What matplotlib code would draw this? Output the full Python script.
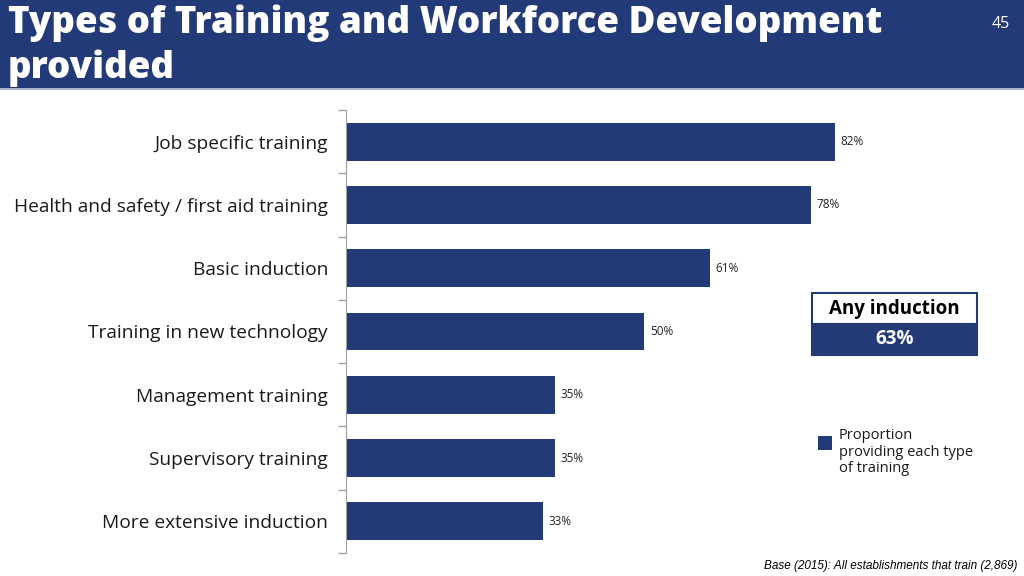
import matplotlib
matplotlib.use("Agg")
import matplotlib.pyplot as plt
from matplotlib.patches import Rectangle

# data
categories = ["Job specific training", "Health and safety / first aid training",
              "Basic induction", "Training in new technology",
              "Management training", "Supervisory training",
              "More extensive induction"]
values = [82, 78, 61, 50, 35, 35, 33]
any_induction = 63

navy = "#233a78"
plt.rcParams['font.family'] = ['Open Sans', 'DejaVu Sans']

fig = plt.figure(figsize=(10.24, 5.76), dpi=100)

# header band
fig.patches.append(Rectangle((0, 1 - 88/576), 1, 88/576, transform=fig.transFigure,
                             facecolor=navy, edgecolor="none", zorder=0))
fig.lines.append(plt.Line2D([0, 1], [1 - 89/576, 1 - 89/576], transform=fig.transFigure,
                            color="#9aa6c4", lw=1.2))
fig.text(8/1024, 1 - 23/576, "Types of Training and Workforce Development", color="white",
         fontsize=26.5, fontweight="heavy", va="center", ha="left")
fig.text(8/1024, 1 - 68/576, "provided", color="white",
         fontsize=26.5, fontweight="heavy", va="center", ha="left")
fig.text(1001/1024, 1 - 24/576, "45", color="white", fontsize=11.5, va="center", ha="center")

ax = fig.add_axes([346/1024, 1 - 553/576, (942 - 346)/1024, (553 - 110)/576])
y = list(range(len(categories)))
ax.barh(y, values, height=0.6, color=navy, zorder=2)
ax.set_ylim(len(categories) - 0.5, -0.5)
ax.set_xlim(0, 100)
for yi, v in zip(y, values):
    ax.text(v + 1, yi, f"{v}%", va="center", ha="left", fontsize=8.5, color="#222222")

ax.set_yticks([i + 0.5 for i in range(-1, len(categories))])
ax.set_yticklabels([])
ax.set_yticks(y, minor=True)
ax.set_yticklabels(categories, minor=True, fontsize=13.8, color="#1a1a1a")
ax.tick_params(axis="y", which="minor", length=0, pad=13)
ax.tick_params(axis="y", which="major", length=6, color="#a0a0a0", width=1)
ax.set_xticks([])
for s in ["top", "right", "bottom"]:
    ax.spines[s].set_visible(False)
ax.spines["left"].set_color("#a0a0a0")

# any induction box
bx, bw = 812/1024, (977 - 812)/1024
fig.patches.append(Rectangle((bx, 1 - 324/576), bw, 31/576, transform=fig.transFigure,
                             facecolor="white", edgecolor=navy, lw=1.5))
fig.patches.append(Rectangle((bx, 1 - 355/576), bw, 31/576, transform=fig.transFigure,
                             facecolor=navy, edgecolor=navy, lw=1.5))
fig.text(bx + bw/2, 1 - 309/576, "Any induction", fontsize=13.5, fontweight="bold",
         color="black", ha="center", va="center")
fig.text(bx + bw/2, 1 - 339/576, f"{any_induction}%", fontsize=13.5, fontweight="bold",
         color="white", ha="center", va="center")

# legend
fig.patches.append(Rectangle((818/1024, 1 - 450/576), 14/1024, 14/576, transform=fig.transFigure,
                             facecolor=navy, edgecolor="none"))
fig.text(839/1024, 1 - 452/576, "Proportion\nproviding each type\nof training", fontsize=10.5,
         color="#1a1a1a", ha="left", va="center", linespacing=1.1)

fig.text(1017/1024, 1 - 566/576, "Base (2015): All establishments that train (2,869)",
         fontsize=8.5, style="italic", family=["Liberation Sans", "DejaVu Sans"],
         color="black", ha="right", va="center")

fig.savefig("out.png", dpi=100)
